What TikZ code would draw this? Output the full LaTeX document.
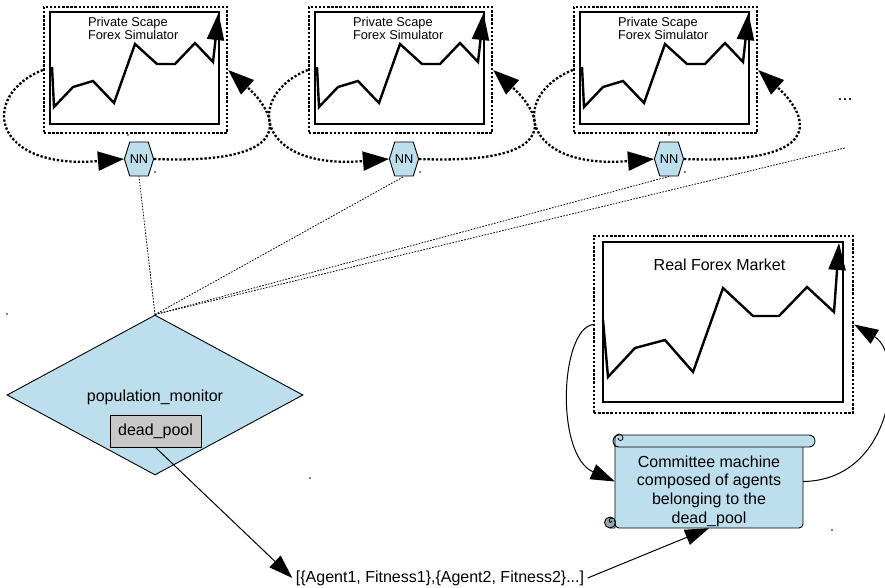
\documentclass[tikz,border=0pt]{standalone}
\usepackage{fontspec}
\setmainfont{Liberation Sans}
\usetikzlibrary{arrows.meta,shapes.geometric,shapes.symbols}
\definecolor{paleblue}{RGB}{188,222,237}
\definecolor{boxgray}{RGB}{200,200,200}
\definecolor{curlgray}{RGB}{148,168,180}
\begin{document}
\begin{tikzpicture}[x=1pt,y=-1pt,
  frameline/.style={draw, line width=2.4pt, dash pattern=on 2.4pt off 1.7pt},
  chartbox/.style={line width=2.4pt},
  chartline/.style={line width=2.4pt, -{Triangle[length=27pt,width=17pt]}},
  loopline/.style={line width=2.3pt, dash pattern=on 2.3pt off 1.9pt, -{Triangle[length=26pt,width=19pt]}},
  tether/.style={line width=0.8pt, dash pattern=on 1.6pt off 1.4pt},
  link/.style={line width=1pt, -{Triangle[length=24pt,width=16pt]}},
  nnbox/.style={shape=signal, signal to=east and west, signal pointer angle=145, draw, line width=0.9pt, fill=paleblue, minimum width=28pt, minimum height=34pt, inner sep=0pt, font=\fontsize{12.8}{13}\selectfont},
  small/.style={font=\fontsize{12.8}{13}\selectfont},
  big/.style={font=\fontsize{16}{18.6}\selectfont},
  speck/.style={fill=black, circle, inner sep=0pt, minimum size=1.6pt},
]
\useasboundingbox (0,0) rectangle (885,588);

% three private simulator panels, each looped through its neural network
\foreach \i/\dx in {1/0,2/265,3/530}{
  \begin{scope}[shift={(\dx,0)}]
    \node[frameline, minimum width=183pt, minimum height=126pt, inner sep=0pt] (frame\i) at (135.5,70) {};
    \draw[chartbox] (50,12) rectangle (219,124);
    \draw[chartline] (52,67) -- (54,107) -- (73,87) -- (93,81) -- (114,103) -- (135,44) -- (157,64) -- (175,64) -- (195,43) -- (213,62) -- (218.5,13);
    \node[anchor=west, align=left, small] (title\i) at (84.5,28.5) {Private Scape\\Forex Simulator};
    \node[nnbox] (nn\i) at (139,159) {NN};
    \draw[loopline] (frame\i.west) .. controls (-20,95) and (-10,170) .. (nn\i.west);
    \draw[loopline] (nn\i.east) .. controls (305,165) and (275,112) .. (frame\i.east);
    \node[speck] at (155,172) {};
  \end{scope}
}
\node[speck] at (128,135) {};
\node[speck] at (669,135) {};
\node[font=\fontsize{18}{18}\selectfont] (more) at (845,100) {...};
\coordinate (beyond) at (845,148);

% population monitor with its dead pool
\node[diamond, draw, line width=0.9pt, fill=paleblue, minimum width=296pt, minimum height=160pt, inner sep=0pt] (monitor) at (155,395) {};
\node[big] (monitorlabel) at (155,397) {population\_monitor};
\node[draw, line width=0.9pt, fill=boxgray, minimum width=91pt, minimum height=32pt, inner sep=0pt, big] (deadpool) at (155.5,431) {dead\_pool};

\draw[tether] (monitor.north) -- (nn1.south);
\draw[tether] (monitor.north) -- (nn2.south);
\draw[tether] (monitor.north) -- (nn3.south);
\draw[tether] (monitor.north) -- (beyond);

% real market panel
\node[frameline, minimum width=259pt, minimum height=177pt, inner sep=0pt] (market) at (723.5,324.5) {};
\draw[chartbox] (603,242) rectangle (843,402);
\draw[chartline] (603,320) -- (608,377) -- (635,348) -- (665,340) -- (693,372) -- (723,288) -- (753,316) -- (779,316) -- (807,287) -- (834,312) -- (839,243);
\node[big] (markettitle) at (719.5,265) {Real Forex Market};

% committee scroll
\node[minimum width=188pt, minimum height=93pt, inner sep=0pt] (scroll) at (709,481.5) {};
\draw[line width=0.9pt, fill=paleblue, rounded corners=4pt] (615,441) -- (615,528) -- (803,528) -- (803,441);
\draw[line width=0.9pt, fill=paleblue, rounded corners=6pt] (613,435) rectangle (815,447);
\draw[line width=0.8pt] (615,447) -- (615,438) arc (180:360:4) arc (0:180:2.5);
\draw[line width=0.9pt, fill=curlgray] (610,522.5) circle (5.5);
\draw[line width=0.8pt] (610,528) -- (615,528) -- (615,521) arc (0:-180:3) arc (180:0:1.5);
\node[align=center, big] (committee) at (709,491) {Committee machine\\composed of agents\\belonging to the\\dead\_pool};
\node[speck] at (832,530) {};
\node[speck] at (7,314) {};
\node[speck] at (310,478) {};

% agent list and the arrows through it
\node[big] (agents) at (440,578) {[\{Agent1, Fitness1\},\{Agent2, Fitness2\}...]};
\draw[link] (deadpool.south) -- (agents.west);
\draw[link] (agents.east) -- (scroll.south);
\draw[link] (market.west) .. controls (560,330) and (555,455) .. (scroll.west);
\draw[link] (scroll.east) .. controls (895,480) and (905,355) .. (market.east);
\end{tikzpicture}
\end{document}
